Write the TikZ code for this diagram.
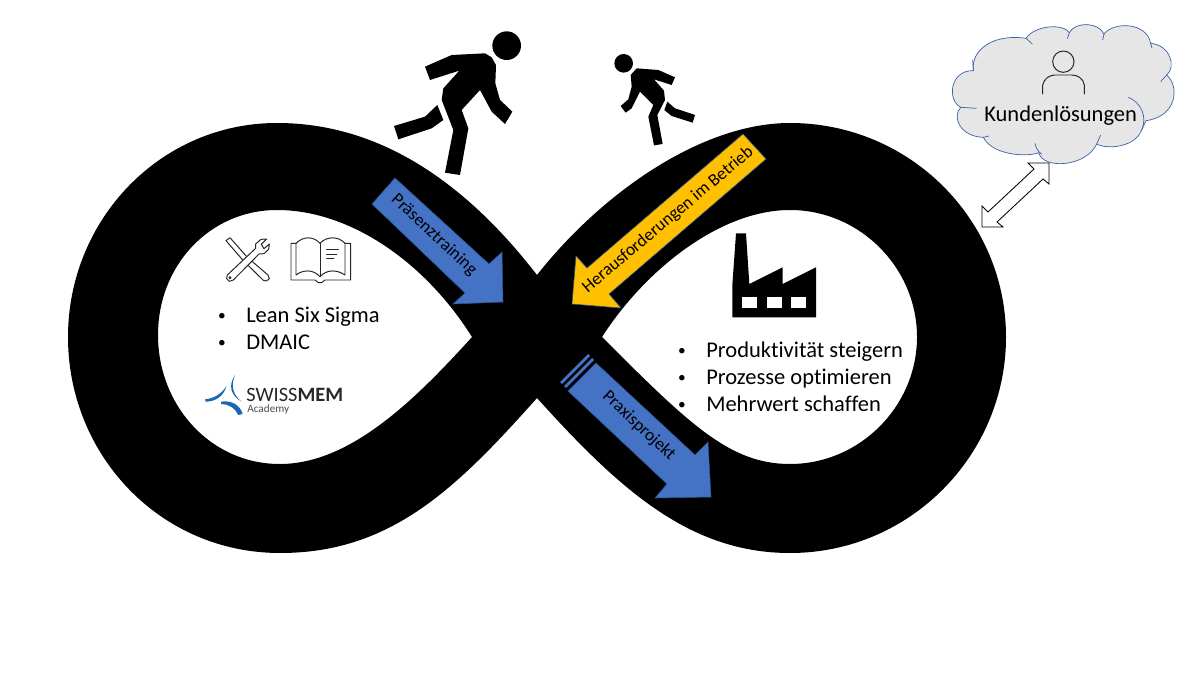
\documentclass[tikz,border=0pt]{standalone}
\usepackage{fontspec}
\setmainfont[Ligatures=CommonOff]{Carlito}
\usetikzlibrary{positioning}
\definecolor{arrowblue}{HTML}{4472C4}
\definecolor{arrowedge}{HTML}{2F528F}
\definecolor{arrowyellow}{HTML}{FFC000}
\definecolor{cloudgray}{HTML}{E7E6E6}
\definecolor{logoblue}{HTML}{1B66AE}
\tikzset{
	label/.style={font=\fontsize{16}{18}\selectfont, inner sep=0pt, anchor=base west, text=black},
	dot/.style={font=\fontsize{11}{12}\selectfont, inner sep=0pt, anchor=base},
	arrowtext/.style={font=\fontsize{12.5}{14}\selectfont, inner sep=0pt, text=black},
	bluearrow/.style={fill=arrowblue, draw=arrowedge, line width=0.4pt},
	icon/.style={draw=black!85, line width=0.7pt, line join=round, line cap=round}
}
\begin{document}
\begin{tikzpicture}[x=0.025cm, y=-0.025cm]
	\useasboundingbox (0,0) rectangle (1200,675);

	% Draw the figure of eight
	\fill[black, even odd rule]
		(537,275) .. controls (475,195) and (390,123) .. (277,123)
		.. controls (160,123) and (68,220) .. (68,337)
		.. controls (68,455) and (160,553) .. (280,553)
		.. controls (390,553) and (455,490) .. (537,398)
		.. controls (620,490) and (690,553) .. (790,553)
		.. controls (910,553) and (1006,455) .. (1006,337)
		.. controls (1006,220) and (910,123) .. (790,123)
		.. controls (700,123) and (600,195) .. (537,275) -- cycle
		(472,337) .. controls (425,262) and (350,210) .. (277,210)
		.. controls (210,210) and (158,265) .. (158,335)
		.. controls (158,405) and (210,464) .. (280,464)
		.. controls (350,464) and (415,400) .. (472,337) -- cycle
		(602,337) .. controls (645,270) and (720,210) .. (790,210)
		.. controls (860,210) and (917,268) .. (917,337)
		.. controls (917,406) and (860,464) .. (790,464)
		.. controls (730,464) and (690,425) .. (602,337) -- cycle;

	% Draw the arrows on the band
	\draw[bluearrow] (395,178) -- (372,204) -- (465,293) -- (453,304) -- (503,302) -- (502,252) -- (489,264) -- cycle;
	\draw[fill=arrowyellow, draw=arrowedge, line width=0.4pt] (743,134) -- (766,159) -- (609,294) -- (621,308) -- (572,304) -- (576,256) -- (587,268) -- cycle;
	\draw[bluearrow] (596,363) -- (568,391) -- (667,484) -- (655,498) -- (711,497) -- (708,442) -- (695,455) -- cycle;
	\fill[arrowblue] (588,354) -- (560,382) -- (562,384) -- (590,356) -- cycle;
	\fill[arrowblue] (592,358) -- (564,386) -- (566,388) -- (594,360) -- cycle;
	\node[arrowtext, rotate=-43] (training) at (434,235) {Präsenztraining};
	\node[arrowtext, rotate=40] (betrieb) at (668,220) {Herausforderungen im Betrieb};
	\node[arrowtext, rotate=-43] (projekt) at (639,426) {Praxisprojekt};

	% Draw the two walkers
	\begin{scope}[shift={(360,20)}, scale=1/3]
		\fill (440,77) circle (43);
		\fill (195,140) -- (275,105) -- (375,100) -- (395,112) -- (408,135) -- (406,190) -- (420,240) -- (457,275) -- (435,312) -- (395,275) -- (360,210) -- (305,270) -- (325,325) -- (300,465) -- (255,458) -- (280,330) -- (245,240) -- (250,205) -- (298,152) -- (210,180) -- cycle;
		\fill (232,255) -- (250,300) -- (215,325) -- (115,358) -- (102,318) -- (195,290) -- cycle;
		\fill (791,130) circle (28);
		\fill (812,165) -- (830,145) -- (895,150) -- (945,172) -- (935,195) -- (882,178) -- (912,212) -- (915,240) -- (892,285) -- (908,372) -- (882,376) -- (865,290) -- (880,255) -- (840,215) -- (815,265) -- (797,278) -- (782,258) -- (805,238) -- (815,200) -- cycle;
		\fill (922,245) -- (945,265) -- (1005,285) -- (998,308) -- (935,288) -- (913,270) -- cycle;
	\end{scope}

	% Draw the tools and the book
	\begin{scope}[shift={(190,220)}, scale=1/3]
		\draw[icon, fill=white] (108,62) -- (120,53) -- (172,112) -- (234,165) -- (238,176) -- (230,183) -- (220,181) -- (160,122) -- cycle;
		\draw[icon, fill=white] (112,165) -- (197,85) -- (197,72) -- (213,58) -- (230,57) -- (214,73) -- (222,86) -- (238,72) -- (236,88) -- (222,101) -- (207,102) -- (130,180) -- (118,184) -- (110,176) -- cycle;
		\draw[icon] (120,173) circle (3);
		\draw[icon] (318,165) -- (318,70) .. controls (340,48) and (370,48) .. (390,70) .. controls (410,48) and (445,48) .. (465,70) -- (465,165) .. controls (440,148) and (410,148) .. (390,170) .. controls (370,148) and (340,148) .. (318,165) -- cycle;
		\draw[icon] (390,70) -- (390,170);
		\draw[icon] (318,70) -- (303,70) -- (303,180) -- (375,180) -- (385,188) -- (395,188) -- (405,180) -- (482,180) -- (482,70) -- (465,70);
		\draw[icon] (410,88) -- (445,88) (410,102) -- (440,102) (410,116) -- (432,116);
	\end{scope}

	% Draw the left list
	\node[dot] (dotA) at (222,320) {•};
	\node[label] (sigma) at (246,322) {Lean Six Sigma};
	\node[dot] (dotB) at (222,347) {•};
	\node[label] (dmaic) at (246,349) {DMAIC};

	% Draw the logo
	\begin{scope}[shift={(190,220)}, scale=1/3]
		\fill[logoblue] (135,465) .. controls (115,495) and (120,525) .. (155,545) .. controls (128,525) and (122,495) .. (135,465) -- cycle;
		\fill[logoblue] (45,538) .. controls (75,535) and (95,520) .. (110,498) .. controls (100,530) and (75,545) .. (47,545) -- cycle;
		\fill[logoblue] (93,545) .. controls (125,540) and (150,555) .. (158,582) -- (145,585) .. controls (135,565) and (120,553) .. (93,552) -- cycle;
	\end{scope}
	\node[inner sep=0pt, anchor=base west, font=\fontsize{14.5}{16}\selectfont, text=black!85] (swissmem) at (246,401) {SWISS\textbf{MEM}};
	\node[inner sep=0pt, anchor=base west, font=\fontsize{8}{9}\selectfont, text=black!70] (academy) at (247,412) {Academy};

	% Draw the factory
	\begin{scope}[shift={(670,225)}, scale=1/3]
		\fill (187,277) -- (187,180) -- (198,25) -- (228,25) -- (238,177) -- (338,127) -- (338,177) -- (438,127) -- (438,277) -- cycle;
		\fill[white] (217,217) rectangle (262,250);
		\fill[white] (290,217) rectangle (335,250);
		\fill[white] (364,217) rectangle (409,250);
	\end{scope}

	% Draw the right list
	\node[dot] (dotC) at (682,355) {•};
	\node[label] (steigern) at (706,357) {Produktivität steigern};
	\node[dot] (dotD) at (682,382) {•};
	\node[label] (optimieren) at (706,384) {Prozesse optimieren};
	\node[dot] (dotE) at (682,409) {•};
	\node[label] (schaffen) at (706,411) {Mehrwert schaffen};

	% Draw the cloud
	\begin{scope}[shift={(940,20)}, scale=1/3]
		\draw[fill=cloudgray, draw=arrowblue!85!black, line width=0.5pt]
			(100,152) .. controls (92,90) and (160,40) .. (258,55)
			.. controls (285,15) and (370,10) .. (388,38)
			.. controls (405,5) and (475,5) .. (492,42)
			.. controls (520,5) and (620,5) .. (632,70)
			.. controls (690,75) and (710,140) .. (680,165)
			.. controls (720,200) and (710,290) .. (618,302)
			-- (604,332)
			.. controls (585,380) and (505,390) .. (470,372)
			.. controls (440,440) and (310,450) .. (296,398)
			.. controls (270,410) and (160,410) .. (130,352)
			.. controls (60,350) and (35,290) .. (62,262)
			.. controls (20,240) and (30,150) .. (100,152) -- cycle;
		\draw[draw=arrowblue!85!black, line width=0.5pt]
			(258,55) -- (277,72) (388,38) -- (382,56) (492,42) -- (488,60) (632,70) -- (636,85)
			(680,165) -- (662,185) (565,232) .. controls (600,245) and (625,290) .. (604,332)
			(482,345) -- (470,372) (285,370) .. controls (288,385) and (293,392) .. (305,403)
			(130,352) -- (147,348) (62,262) -- (110,265) (100,152) -- (98,120);
		\draw[icon] (370,125) circle (32);
		\draw[icon] (308,222) -- (308,195) .. controls (312,175) and (330,165) .. (345,165) -- (395,165) .. controls (412,165) and (430,175) .. (433,195) -- (433,222);
	\end{scope}
	\node[label] (kunden) at (984,122) {Kundenlösungen};

	% Draw the double arrow below the cloud
	\draw[fill=white, draw=black, line width=0.6pt, line join=miter]
		(1049,163) -- (1028,163) -- (1034,169) -- (988,212) -- (982,206) -- (982,227) -- (1003,227) -- (997,222) -- (1043,179) -- (1049,184) -- cycle;
\end{tikzpicture}
\end{document}
